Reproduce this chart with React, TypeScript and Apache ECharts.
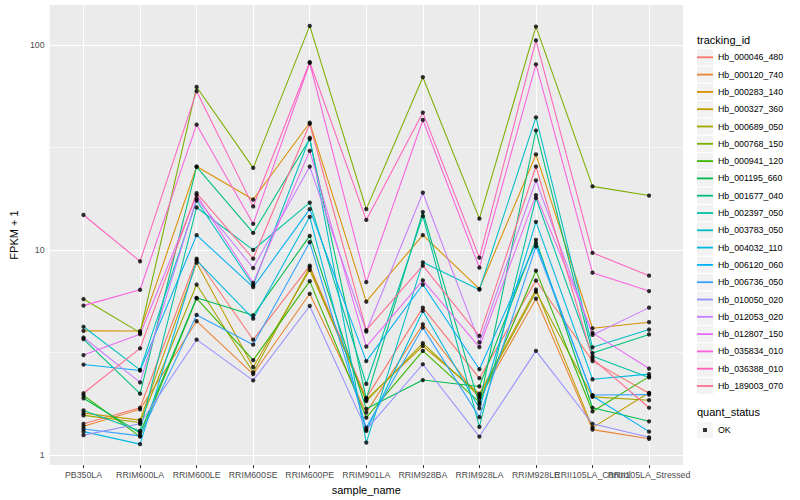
import React, { useEffect, useRef } from "react";
import * as echarts from "echarts";

const sampleNames = [
  "PB350LA",
  "RRIM600LA",
  "RRIM600LE",
  "RRIM600SE",
  "RRIM600PE",
  "RRIM901LA",
  "RRIM928BA",
  "RRIM928LA",
  "RRIM928LE",
  "RRII105LA_Control",
  "RRII105LA_Stressed",
];

const trackingIds = [
  "Hb_000046_480",
  "Hb_000120_740",
  "Hb_000283_140",
  "Hb_000327_360",
  "Hb_000689_050",
  "Hb_000768_150",
  "Hb_000941_120",
  "Hb_001195_660",
  "Hb_001677_040",
  "Hb_002397_050",
  "Hb_003783_050",
  "Hb_004032_110",
  "Hb_006120_060",
  "Hb_006736_050",
  "Hb_010050_020",
  "Hb_012053_020",
  "Hb_012807_150",
  "Hb_035834_010",
  "Hb_036388_010",
  "Hb_189003_070",
];

// FPKM + 1, one value per sample_name
const hb_000046_480 = [1.42, 1.7, 9.06, 3.65, 8.38, 1.9, 5.23, 2.37, 7.09, 2.87, 2.0];
const hb_000120_740 = [1.38, 1.67, 4.49, 2.48, 6.11, 1.61, 4.34, 1.89, 5.78, 1.33, 1.2];
const hb_000283_140 = [4.03, 4.02, 25.5, 17.6, 41.7, 5.59, 11.8, 6.46, 29.2, 4.15, 4.44];
const hb_000327_360 = [1.6, 1.48, 8.66, 2.68, 7.98, 1.86, 3.4, 1.99, 6.41, 1.36, 2.01];
const hb_000689_050 = [1.56, 1.44, 6.78, 2.53, 8.23, 1.83, 3.51, 1.94, 6.25, 1.92, 1.85];
const hb_000768_150 = [5.76, 3.95, 62.3, 25.1, 123.6, 15.8, 69.5, 14.2, 122.7, 20.4, 18.4];
const hb_000941_120 = [1.95, 1.23, 5.8, 2.9, 7.04, 1.52, 3.22, 1.81, 7.92, 1.63, 2.41];
const hb_001195_660 = [1.89, 1.28, 5.84, 4.8, 11.7, 1.68, 2.32, 2.16, 11.2, 1.7, 1.46];
const hb_001677_040 = [3.67, 1.99, 25.4, 12.1, 34.7, 1.88, 15.3, 1.76, 38.2, 3.14, 3.87];
const hb_002397_050 = [1.65, 1.31, 16.1, 10.0, 17.0, 2.22, 14.6, 1.37, 17.9, 3.03, 2.39];
const hb_003783_050 = [4.22, 2.6, 17.4, 6.73, 35.2, 1.15, 8.7, 6.4, 44.3, 3.35, 4.09];
const hb_004032_110 = [1.3, 1.13, 8.9, 4.62, 14.5, 1.31, 5.04, 1.69, 13.7, 2.34, 2.48];
const hb_006120_060 = [2.76, 2.58, 11.8, 6.58, 15.8, 2.87, 6.78, 2.62, 10.8, 1.94, 1.3];
const hb_006736_050 = [1.34, 1.24, 4.82, 3.45, 10.9, 1.36, 4.18, 1.53, 10.4, 1.96, 1.97];
const hb_010050_020 = [1.25, 1.42, 3.65, 2.31, 5.33, 1.33, 2.77, 1.23, 3.22, 1.42, 1.22];
const hb_012053_020 = [3.74, 2.26, 17.8, 8.16, 25.5, 4.0, 19.0, 3.54, 21.8, 3.85, 5.23];
const hb_012807_150 = [3.07, 3.88, 18.5, 6.91, 30.4, 3.38, 7.11, 3.36, 18.5, 3.94, 2.64];
const hb_035834_010 = [5.35, 6.39, 40.8, 13.4, 81.5, 6.96, 43.0, 8.19, 80.3, 7.74, 6.3];
const hb_036388_010 = [14.8, 8.8, 59.4, 16.3, 82.4, 14.0, 46.7, 9.16, 105, 9.68, 7.49];
const hb_189003_070 = [2.0, 3.31, 18.9, 9.06, 41.1, 4.06, 8.38, 3.81, 25.5, 2.95, 1.7];

const seriesValues = [
  hb_000046_480,
  hb_000120_740,
  hb_000283_140,
  hb_000327_360,
  hb_000689_050,
  hb_000768_150,
  hb_000941_120,
  hb_001195_660,
  hb_001677_040,
  hb_002397_050,
  hb_003783_050,
  hb_004032_110,
  hb_006120_060,
  hb_006736_050,
  hb_010050_020,
  hb_012053_020,
  hb_012807_150,
  hb_035834_010,
  hb_036388_010,
  hb_189003_070,
];

const quantStatus = ["OK"];
const yTickValues = [1, 10, 100];
const yMinorValues = [3.1623, 31.623];

const palette = [
  "#F8766D", "#EA8331", "#D89000", "#C09B00", "#A3A500",
  "#7CAE00", "#39B600", "#00BB4E", "#00BF7D", "#00C1A3",
  "#00BFC4", "#00BAE0", "#00B0F6", "#35A2FF", "#9590FF",
  "#C77CFF", "#E76BF3", "#FA62DB", "#FF62BC", "#FF6C91",
];

const FONT = "'Liberation Sans', Arial, Helvetica, sans-serif";

export default function App() {
  const ref = useRef<HTMLDivElement>(null);

  useEffect(() => {
    if (!ref.current) return;
    const chart = echarts.init(ref.current, null, { renderer: "svg" });
    const xIdx = sampleNames.map((_, i) => i);
    const X_MIN = -0.6;
    const X_MAX = sampleNames.length - 1 + 0.6;

    const lineSeries = trackingIds.map((id, k) => ({
      type: "line",
      name: id,
      data: seriesValues[k].map((v, i) => [i, v]),
      symbol: "none",
      showSymbol: false,
      silent: true,
      z: 3,
      lineStyle: { color: palette[k], width: 1.07 },
      itemStyle: { color: palette[k] },
    }));

    const points = seriesValues.flatMap((vals) => vals.map((v, i) => [i, v]));

    const major = { color: "#FFFFFF", width: 1.07, type: "solid" };
    const minor = { color: "#FFFFFF", width: 0.53, type: "solid" };

    const gridSeries = {
      type: "line",
      name: "__grid",
      data: [[0, 1]],
      symbol: "none",
      showSymbol: false,
      silent: true,
      z: 1,
      lineStyle: { opacity: 0, width: 0 },
      markLine: {
        silent: true,
        z: 1,
        symbol: ["none", "none"],
        label: { show: false },
        emphasis: { disabled: true },
        data: [
          ...yMinorValues.map((v) => ({ yAxis: v, lineStyle: minor })),
          ...yTickValues.map((v) => ({ yAxis: v, lineStyle: major })),
          ...xIdx.map((v) => ({ xAxis: v, lineStyle: major })),
        ],
      },
    };

    const legendBase = {
      orient: "vertical",
      left: 697,
      itemWidth: 16,
      itemHeight: 16,
      itemGap: 1.3,
      padding: 0,
      selectedMode: false,
      textStyle: { fontSize: 8.8, color: "#000000", fontFamily: FONT },
    };

    const lineIcon = "path://M0,0 M16,16 M0,7.1 L16,7.1 L16,8.9 L0,8.9 Z";

    const option: any = {
      animation: false,
      backgroundColor: "#FFFFFF",
      textStyle: { fontFamily: FONT },
      title: [
        {
          text: "tracking_id",
          left: 697,
          top: 34,
          padding: 0,
          textStyle: { fontSize: 11, fontWeight: "normal", color: "#000000", fontFamily: FONT },
        },
        {
          text: "quant_status",
          left: 697,
          top: 406,
          padding: 0,
          textStyle: { fontSize: 11, fontWeight: "normal", color: "#000000", fontFamily: FONT },
        },
      ],
      grid: {
        left: 40,
        top: 5,
        width: 643,
        height: 463,
        show: true,
        backgroundColor: "#EBEBEB",
        borderWidth: 0,
        containLabel: false,
      },
      legend: [
        {
          ...legendBase,
          top: 49.3,
          formatter: () => "",
          data: trackingIds.map((id) => ({
            name: id,
            icon: "rect",
            itemStyle: { color: "#F2F2F2", borderWidth: 0 },
          })),
        },
        {
          ...legendBase,
          top: 49.3,
          data: trackingIds.map((id, k) => ({
            name: id,
            icon: lineIcon,
            itemStyle: { color: palette[k], borderWidth: 0 },
          })),
        },
        {
          ...legendBase,
          top: 422,
          formatter: () => "",
          data: quantStatus.map((q) => ({
            name: q,
            icon: "rect",
            itemStyle: { color: "#F2F2F2", borderWidth: 0 },
          })),
        },
        {
          ...legendBase,
          top: 422,
          data: quantStatus.map((q) => ({
            name: q,
            icon: "path://M0,0 M16,16 M6,6 L10,6 L10,10 L6,10 Z",
            itemStyle: { color: "#000000", borderWidth: 0 },
          })),
        },
      ],
      xAxis: {
        type: "value",
        min: X_MIN,
        max: X_MAX,
        splitLine: { show: false },
        axisLine: { show: false },
        axisTick: {
          show: true,
          customValues: xIdx,
          length: 3,
          lineStyle: { color: "#333333", width: 1.07 },
        },
        axisLabel: {
          // empty end labels keep every category label visible
          customValues: [X_MIN, ...xIdx, X_MAX],
          formatter: (v: number) =>
            Math.abs(v - Math.round(v)) < 1e-6 ? sampleNames[Math.round(v)] ?? "" : "",
          fontSize: 8.8,
          color: "#4D4D4D",
          margin: 5,
          fontFamily: FONT,
          hideOverlap: false,
        },
        name: "sample_name",
        nameLocation: "middle",
        nameGap: 15,
        nameTextStyle: { fontSize: 11, color: "#000000", fontFamily: FONT },
      },
      yAxis: {
        type: "log",
        logBase: 10,
        min: 0.893,
        max: 156.3,
        splitLine: { show: false },
        minorSplitLine: { show: false },
        axisLine: { show: false },
        axisTick: {
          show: true,
          customValues: yTickValues,
          length: 3,
          lineStyle: { color: "#333333", width: 1.07 },
        },
        axisLabel: {
          customValues: yTickValues,
          formatter: (v: number) => String(Math.round(v)),
          fontSize: 8.8,
          color: "#4D4D4D",
          margin: 5,
          fontFamily: FONT,
          showMinLabel: true,
          showMaxLabel: true,
        },
        name: "FPKM + 1",
        nameLocation: "middle",
        nameGap: 22,
        nameTextStyle: { fontSize: 11, color: "#000000", fontFamily: FONT },
      },
      series: [
        gridSeries,
        ...lineSeries,
        {
          type: "scatter",
          name: "OK",
          data: points,
          symbol: "circle",
          symbolSize: 4.3,
          silent: true,
          z: 5,
          itemStyle: { color: "#000000" },
        },
      ],
    };

    chart.setOption(option);
    return () => chart.dispose();
  }, []);

  return (
    <div
      ref={ref}
      style={{ position: "fixed", left: 0, top: 0, width: 800, height: 500 }}
    />
  );
}
